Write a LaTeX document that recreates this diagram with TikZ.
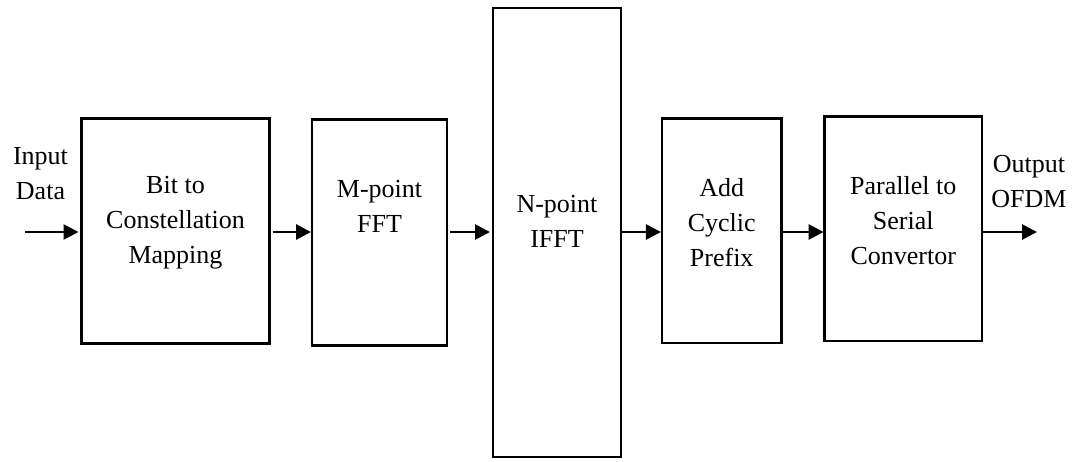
\documentclass[tikz,border=0pt]{standalone}
\usepackage{fontspec}
\setmainfont{Liberation Serif}
\usetikzlibrary{arrows.meta}

\tikzset{
  block/.style={draw=black, line width=2.6pt, fill=white, inner sep=0pt, outer sep=0pt},
  label text/.style={align=center, inner sep=0pt, font=\fontsize{26}{35}\selectfont},
  flow/.style={line width=2.8pt, -{Triangle[length=15pt,width=15pt]}},
}

\begin{document}
\begin{tikzpicture}[x=1pt,y=-1pt]
  \useasboundingbox (0,0) rectangle (1086,461);

  % processing blocks of the transmitter chain
  \node[block, minimum width=188pt, minimum height=225pt] (map)  at (175.5,231) {};
  \node[block, minimum width=135pt, minimum height=226pt] (fft)  at (379.5,232.5) {};
  \node[block, minimum width=128pt, minimum height=449pt] (ifft) at (557,232.5) {};
  \node[block, minimum width=119.5pt, minimum height=224.5pt] (cp) at (721.7,230.8) {};
  \node[block, minimum width=157.5pt, minimum height=224.5pt] (ps) at (903.3,228.8) {};

  % block captions
  \node[label text] (tmap)  at (175.5,223) {Bit to\\Constellation\\Mapping};
  \node[label text] (tfft)  at (379.5,206) {M-point\\FFT};
  \node[label text] (tifft) at (557,221) {N-point\\IFFT};
  \node[label text] (tcp)   at (721.7,223) {Add\\Cyclic\\Prefix};
  \node[label text] (tps)   at (903.3,221) {Parallel to\\Serial\\Convertor};

  % input and output labels
  \node[label text] (tin)  at (40.5,174) {Input\\Data};
  \node[label text] (tout) at (1029,182) {Output\\OFDM};

  % signal path
  \coordinate (row) at (0,232);
  \coordinate (src) at (25,232);
  \coordinate (dst) at (1037,232);
  \draw[flow, shorten >=3pt] (src) -- (map.west |- row);
  \draw[flow, shorten <=3pt, shorten >=1pt] (map.east |- row) -- (fft.west |- row);
  \draw[flow, shorten <=3pt, shorten >=3pt] (fft.east |- row) -- (ifft.west |- row);
  \draw[flow, shorten >=1pt] (ifft.east |- row) -- (cp.west |- row);
  \draw[flow, shorten >=1pt] (cp.east |- row) -- (ps.west |- row);
  \draw[flow] (ps.east |- row) -- (dst);
\end{tikzpicture}
\end{document}
